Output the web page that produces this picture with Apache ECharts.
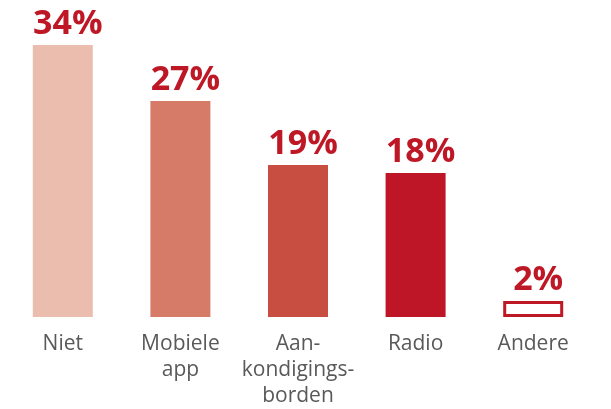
<!DOCTYPE html>
<html>
<head>
<meta charset="utf-8">
<script src="https://cdn.jsdelivr.net/npm/echarts@6/dist/echarts.min.js"></script>
<style>
  html, body { margin: 0; padding: 0; background: #fff; }
  #chart { width: 611px; height: 409px; }
</style>
</head>
<body>
<div id="chart"></div>
<script>
// data
const categories = ['Niet', 'Mobiele\napp', 'Aan-\nkondigings-\nborden', 'Radio', 'Andere'];
const values = [34, 27, 19, 18, 2];
// colours per bar, the last one is drawn as an outline
const barColors = ['#ebbdaf', '#d77b69', '#c94e42', '#be1626', '#ffffff'];

const myChart = echarts.init(document.getElementById('chart'));

const seriesData = values.map((v, i) => {
    let item = { value: v, itemStyle: { color: barColors[i] } };
    if (i === values.length - 1) {
        item.itemStyle.borderColor = '#be1826';
        item.itemStyle.borderWidth = 3;
    }
    return item;
});

const options = {
    animation: false,
    grid: {
        left: 4,
        right: 19,
        top: 45,
        bottom: 89,
        containLabel: false
    },
    xAxis: {
        type: 'category',
        data: categories,
        axisLine: { show: false },
        axisTick: { show: false },
        axisLabel: {
            interval: 0,
            margin: 14,
            color: '#595959',
            fontFamily: 'Open Sans',
            fontSize: 21,
            lineHeight: 26
        }
    },
    yAxis: {
        type: 'value',
        min: 0,
        max: 34,
        show: false,
        splitLine: { show: false }
    },
    series: [{
        type: 'bar',
        data: seriesData,
        barWidth: 60,
        label: {
            show: true,
            position: 'top',
            distance: 4,
            offset: [5, 0],
            formatter: '{c}%',
            color: '#be1826',
            fontFamily: 'Open Sans',
            fontWeight: 'bold',
            fontSize: 34
        }
    }]
};
myChart.setOption(options);
</script>
</body>
</html>
